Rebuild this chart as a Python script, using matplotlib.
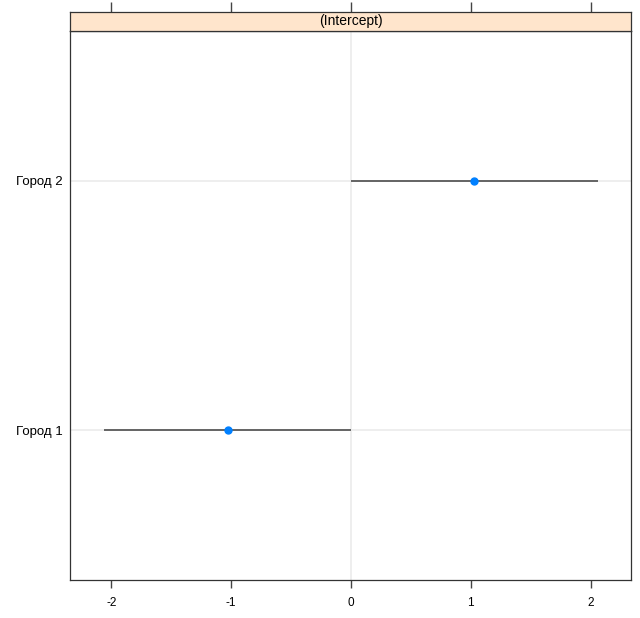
import matplotlib
matplotlib.use("Agg")
import matplotlib.pyplot as plt

# Random effects (intercept) with intervals
groups = ["Город 1", "Город 2"]
estimate = [-1.03, 1.03]
lower = [-2.06, 0.00]
upper = [0.00, 2.06]
xticks = [-2, -1, 0, 1, 2]

plt.rcParams['font.family'] = ['Liberation Sans', 'DejaVu Sans']

fig = plt.figure(figsize=(6.4, 6.18), dpi=100)
W, H = 640, 618

def px_axes(x0, y0, x1, y1):
    return fig.add_axes([x0 / W, 1 - y1 / H, (x1 - x0) / W, (y1 - y0) / H])

ax = px_axes(70, 31, 631, 580)
strip = px_axes(70, 12, 631, 31)

ypos = list(range(1, len(groups) + 1))

# grid
ax.axvline(0, color="#ebebeb", lw=1.2, zorder=0)
for y in ypos:
    ax.axhline(y, color="#ebebeb", lw=1.2, zorder=0)

ax.hlines(ypos, lower, upper, color="#4d4d4d", lw=1.2, zorder=2)
ax.plot(estimate, ypos, "o", color="#0080ff", ms=5, mec="#0080ff", zorder=3)

ax.set_xlim(-2.346, 2.337)
ax.set_ylim(0.4, 2.6)
ax.set_xticks(xticks)
ax.set_xticklabels([str(t).replace("\u2212", "-") for t in xticks])
ax.set_yticks(ypos)
ax.set_yticklabels(groups)
ax.tick_params(axis="x", direction="out", length=6, width=1, color="#444444",
               labelsize=8.5, pad=6)
ax.tick_params(axis="y", length=0, labelsize=9.5, pad=5)
for s in ax.spines.values():
    s.set_color("#333333")
    s.set_linewidth(0.9)

# strip
strip.set_facecolor("#ffe5cc")
strip.set_xlim(ax.get_xlim())
strip.set_ylim(0, 1)
strip.set_yticks([])
strip.set_xticks(xticks)
strip.xaxis.tick_top()
strip.tick_params(axis="x", direction="out", length=7, width=1, color="#444444",
                  labeltop=False, labelbottom=False)
strip.text(0.5, 0.5, "(Intercept)", transform=strip.transAxes,
           ha="center", va="center", fontsize=10)
for s in strip.spines.values():
    s.set_color("#333333")
    s.set_linewidth(0.9)

fig.savefig("out.png", dpi=100, facecolor="white")
